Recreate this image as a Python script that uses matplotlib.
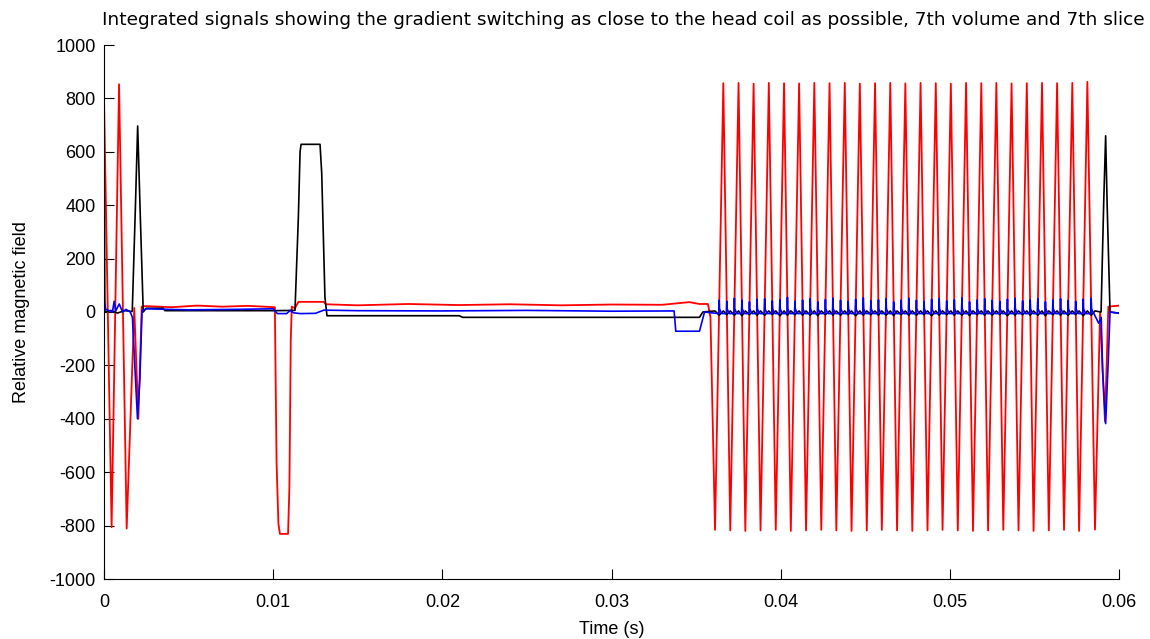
import numpy as np
import matplotlib
matplotlib.use("Agg")
from matplotlib import pyplot as plt

# ---- data (time in s, relative field) ----
# red channel: start transient, flat part, negative lobe, flat part
red_head_t = [0, 0.00045, 0.00089, 0.00134, 0.00179, 0.00203, 0.00223,
              0.0025, 0.0040, 0.0055, 0.0070, 0.0085, 0.0101,
              0.01020, 0.01031, 0.01040, 0.01088, 0.01096, 0.01104, 0.01110,
              0.01129, 0.01149, 0.01300, 0.01310, 0.0150, 0.0180, 0.0210,
              0.0240, 0.0270, 0.0300, 0.0330, 0.0346, 0.0352, 0.03570, 0.03585]
red_head_v = [800, -806, 853, -811, 15, -400, 20,
              22, 18, 24, 20, 23, 18,
              -560, -793, -831, -831, -656, -106, 20,
              14, 38, 38, 29, 25, 30, 26,
              29, 25, 28, 27, 37, 30, 30, -20]
# red readout train: trough / peak times and levels
red_trough_t = [0.03612, 0.03702, 0.03791, 0.03881, 0.03971, 0.04060, 0.04150,
                0.04240, 0.04329, 0.04419, 0.04509, 0.04598, 0.04688, 0.04778,
                0.04868, 0.04957, 0.05047, 0.05137, 0.05226, 0.05316, 0.05406,
                0.05495, 0.05585, 0.05675, 0.05764, 0.05858]
red_trough_v = [-816, -818, -820, -818, -816, -820, -818, -816, -818, -820,
                -818, -816, -818, -820, -818, -816, -818, -820, -818, -816,
                -818, -820, -818, -816, -820, -815]
red_peak_t = [0.03661, 0.03751, 0.03840, 0.03930, 0.04020, 0.04109, 0.04199,
              0.04289, 0.04379, 0.04468, 0.04558, 0.04648, 0.04737, 0.04827,
              0.04917, 0.05006, 0.05096, 0.05186, 0.05275, 0.05365, 0.05455,
              0.05545, 0.05634, 0.05724, 0.05813]
red_peak_v = [857, 858, 855, 858, 857, 856, 858, 857, 858, 855, 857, 858, 856,
              858, 857, 855, 858, 857, 858, 856, 857, 858, 857, 858, 862]
red_tail_t = [0.05888, 0.05917, 0.05937, 0.0600]
red_tail_v = [0, -410, 20, 24]

# black channel
black_head_t = [0, 0.00005, 0.0004, 0.0008, 0.0012, 0.00167, 0.00185, 0.00199,
                0.00215, 0.00232, 0.0025, 0.0035, 0.0036, 0.0100, 0.01129,
                0.01149, 0.01159, 0.01165, 0.01277, 0.01287, 0.01296, 0.01306,
                0.01318, 0.0210, 0.0212, 0.0352, 0.0354]
black_head_v = [700, 0, 6, -4, 5, 2, 380, 697,
                350, 0, 14, 14, 5, 5, 6,
                356, 600, 628, 628, 520, 295, 56,
                -14, -14, -20, -20, 0]
black_cross_v = [-12, -10, -12, -14, -10, -12, -12, -10, -14, -12, -10, -12,
                 -12, -14, -10, -12, -12, -10, -14, -12, -10, -12, -12, -14,
                 -10, -12, -12, -10, -14, -12, -10, -12, -12, -14, -10, -12,
                 -12, -10, -14, -12, -10, -12, -12, -14, -10, -12, -12, -10,
                 -14, -12]
black_tail_t = [0.05894, 0.05910, 0.05921, 0.05930, 0.05947, 0.0600]
black_tail_v = [0, 420, 660, 400, 0, -4]

# blue channel
blue_head_t = [0, 0.0001, 0.0003, 0.0005, 0.0006, 0.0007, 0.0009, 0.0011,
               0.0013, 0.00155, 0.00168, 0.00178, 0.00198, 0.00212, 0.00225,
               0.0025, 0.0050, 0.0080, 0.0100, 0.01025, 0.0108, 0.01100,
               0.01120, 0.01160, 0.01250, 0.01300, 0.0150, 0.0200, 0.0250,
               0.0300, 0.03370, 0.03380, 0.03520, 0.03550]
blue_head_v = [50, 10, 5, 0, 40, 5, 30, 0,
               10, 0, -20, -150, -400, -250, 5,
               12, 8, 10, 12, -6, -6, 6,
               -3, -6, -5, 7, 5, 4, 6,
               3, 4, -72, -72, 0]
blue_spike_v = [45, 40, 52, 45, 38, 48, 50, 42, 46, 55, 40, 45, 50, 38, 47,
                52, 44, 40, 48, 53, 42, 46, 50, 38, 45, 52, 44, 40, 48, 50,
                42, 46, 53, 38, 45, 50, 44, 40, 48, 52, 42, 46, 50, 38, 45,
                50, 44, 40, 48, 52]
blue_tail_t = [0.05880, 0.05895, 0.05903, 0.05921, 0.05937, 0.05947, 0.0600]
blue_tail_v = [-42, -20, -220, -418, -174, 0, -5]

# ---- assemble traces ----
ext_t = sorted(red_trough_t + red_peak_t)
ext_v = [v for _, v in sorted(zip(red_trough_t + red_peak_t, red_trough_v + red_peak_v))]

red_t = np.array(red_head_t + ext_t + red_tail_t)
red_v = np.array(red_head_v + ext_v + red_tail_v)

cross_t = [(a + b) / 2 for a, b in zip(ext_t[:-1], ext_t[1:])]
bk_t, bk_v, bl_t, bl_v = [], [], [], []
for i, c in enumerate(cross_t):
    a = ext_t[i]
    bk_t += [a, c]
    bk_v += [4, black_cross_v[i]]
    bl_t += [c - 0.00003, c, c + 0.00002, c + 0.00010, c + 0.00016]
    bl_v += [-6, blue_spike_v[i], 12, 0, -6]
black_t = np.array(black_head_t + bk_t + [ext_t[-1]] + black_tail_t)
black_v = np.array(black_head_v + bk_v + [4] + black_tail_v)
blue_t = np.array(blue_head_t + bl_t + blue_tail_t)
blue_v = np.array(blue_head_v + bl_v + blue_tail_v)

plt.rcParams['font.family'] = ['Liberation Sans', 'DejaVu Sans']
plt.rcParams['axes.unicode_minus'] = False
fig = plt.figure(figsize=(11.5, 6.39), dpi=100)
ax = fig.add_axes([104 / 1150, 1 - 579 / 639, 1015 / 1150, 534 / 639])

ax.plot(red_t, red_v, color='#ff0000', lw=1.3)
ax.plot(black_t, black_v, color='#000000', lw=1.2)
ax.plot(blue_t, blue_v, color='#0000ff', lw=1.2)

ax.set_xlim(0, 0.06)
ax.set_ylim(-1000, 1000)
ax.set_xticks([0, 0.01, 0.02, 0.03, 0.04, 0.05, 0.06])
ax.set_xticklabels(['0', '0.01', '0.02', '0.03', '0.04', '0.05', '0.06'])
ax.set_yticks(np.arange(-1000, 1001, 200))
ax.spines['top'].set_visible(False)
ax.spines['right'].set_visible(False)
ax.tick_params(direction='in', length=7.5, width=0.8, labelsize=13)
ax.tick_params(axis='x', pad=11)
ax.tick_params(axis='y', pad=6)
ax.set_xlabel('Time (s)', fontsize=13, labelpad=7)
ax.set_ylabel('Relative magnetic field', fontsize=13, labelpad=14)
fig.text(623 / 1150, 1 - 20 / 639,
         'Integrated signals showing the gradient switching as close to the head coil as possible, 7th volume and 7th slice',
         ha='center', va='center', fontsize=13.3, family='DejaVu Sans')

fig.savefig('out.png', dpi=100, facecolor='white')
